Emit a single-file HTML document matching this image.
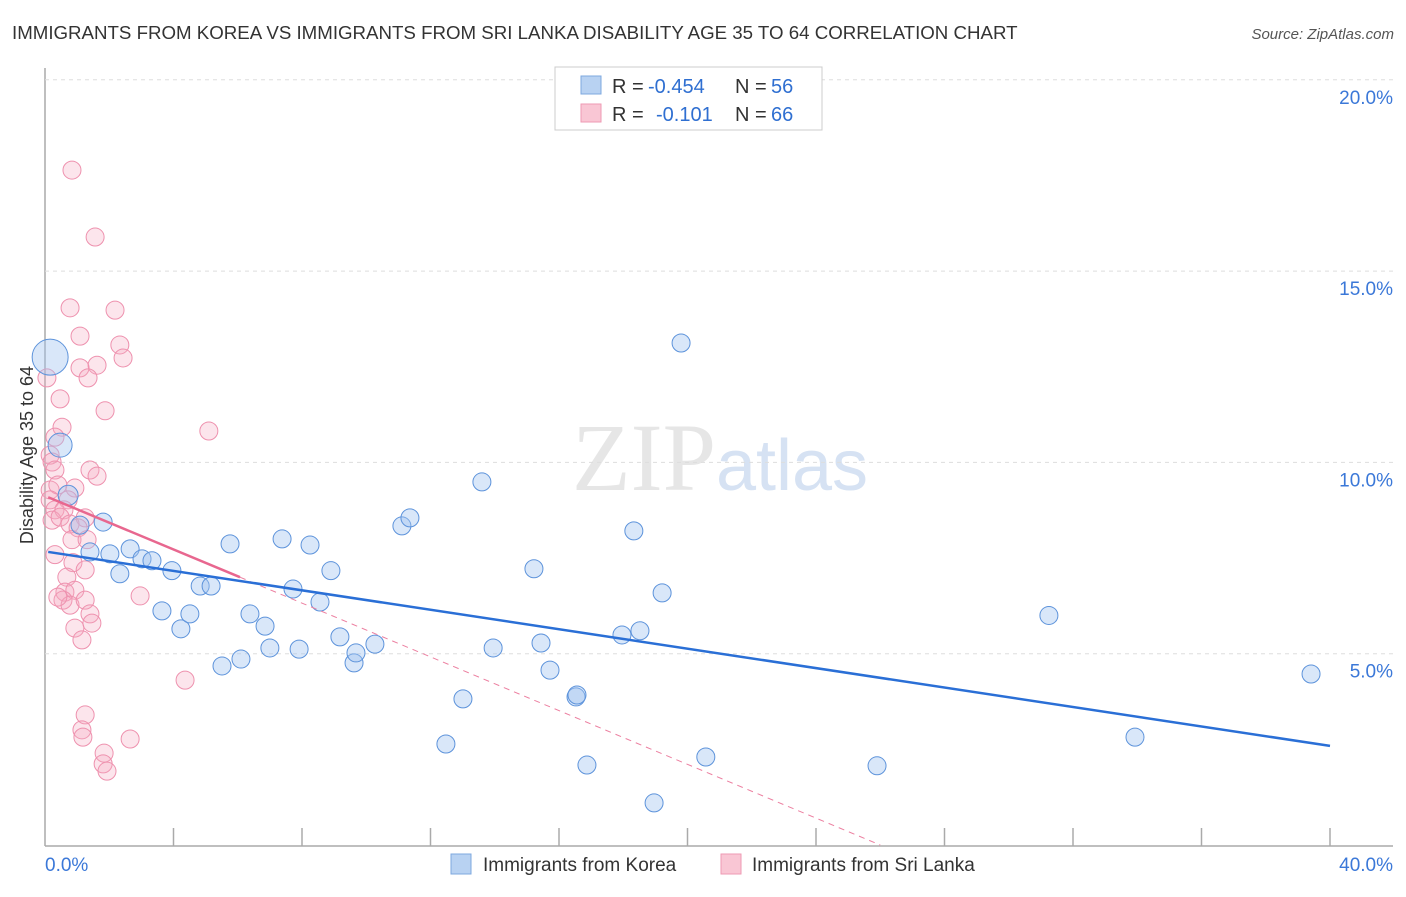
<!DOCTYPE html>
<html><head><meta charset="utf-8"><style>
body{margin:0;background:#fff;font-family:"Liberation Sans",sans-serif;}
svg text{font-family:"Liberation Sans",sans-serif;}
</style></head><body>
<svg id="chart" width="1406" height="892" xmlns="http://www.w3.org/2000/svg">
<text x="12" y="39" font-size="18.7" fill="#333">IMMIGRANTS FROM KOREA VS IMMIGRANTS FROM SRI LANKA DISABILITY AGE 35 TO 64 CORRELATION CHART</text>
<text x="1394" y="39" font-size="15" fill="#555" text-anchor="end" font-style="italic">Source: ZipAtlas.com</text>
<text x="720" y="490" font-size="96" text-anchor="middle" fill="#e6e6e6"><tspan font-family="Liberation Serif">ZIP</tspan><tspan fill="#d6e2f3" font-size="72">atlas</tspan></text>
<text transform="translate(33,455) rotate(-90)" font-size="18" fill="#333" text-anchor="middle">Disability Age 35 to 64</text>
<g id="grid"></g><g id="marks"></g>
<g>
<rect x="555" y="67" width="267" height="63" fill="#fff" stroke="#ccc"/>
<rect x="581" y="76" width="20" height="18" fill="#b8d2f2" stroke="#7ea8df"/>
<rect x="581" y="104" width="20" height="18" fill="#f9c6d4" stroke="#ee9ab3"/>
<text x="612" y="93" font-size="20" fill="#333">R =</text>
<text x="648" y="93" font-size="20" fill="#2f6fd1">-0.454</text>
<text x="735" y="93" font-size="20" fill="#333">N =</text>
<text x="771" y="93" font-size="20" fill="#2f6fd1">56</text>
<text x="612" y="121" font-size="20" fill="#333">R =</text>
<text x="656" y="121" font-size="20" fill="#2f6fd1">-0.101</text>
<text x="735" y="121" font-size="20" fill="#333">N =</text>
<text x="771" y="121" font-size="20" fill="#2f6fd1">66</text>
</g>
<g>
<rect x="451" y="854" width="20" height="20" fill="#b8d2f2" stroke="#7ea8df"/>
<text x="483" y="871" font-size="19" fill="#333">Immigrants from Korea</text>
<rect x="721" y="854" width="20" height="20" fill="#f9c6d4" stroke="#ee9ab3"/>
<text x="752" y="871" font-size="19" fill="#333">Immigrants from Sri Lanka</text>
</g>
</svg>
<script>
const xTicks=[0,4,8,12,16,20,24,28,32,36,40];
const yTicks=[5,10,15,20];
const koreaX=[0.16,0.47,0.72,1.09,1.40,1.81,2.02,2.33,2.65,3.02,3.33,3.95,3.64,4.23,4.51,4.83,5.17,5.51,5.76,6.10,6.38,6.85,7.00,7.38,7.72,7.91,8.25,8.56,8.90,9.18,9.62,9.68,10.27,11.11,11.36,12.48,13.01,13.60,13.95,15.22,15.44,15.72,16.53,16.56,16.87,17.96,18.33,18.52,18.96,19.21,19.80,20.57,25.90,31.25,33.93,39.41];
const koreaY=[12.75,10.45,9.14,8.36,7.66,8.44,7.61,7.09,7.74,7.48,7.43,7.17,6.12,5.65,6.04,6.77,6.77,4.68,7.87,4.86,6.04,5.72,5.15,8.00,6.69,5.12,7.84,6.35,7.17,5.44,4.76,5.02,5.25,8.34,8.55,2.64,3.82,9.49,5.15,7.22,5.28,4.57,3.87,3.92,2.09,5.49,8.21,5.60,1.10,6.59,13.12,2.30,2.07,6.00,2.82,4.47];
const koreaR=[18,12,10,9,9,9,9,9,9,9,9,9,9,9,9,9,9,9,9,9,9,9,9,9,9,9,9,9,9,9,9,9,9,9,9,9,9,9,9,9,9,9,9,9,9,9,9,9,9,9,9,9,9,9,9,9];
const lankaX=[0.84,1.56,0.78,2.18,1.09,2.33,2.43,1.62,1.09,1.34,0.06,0.47,1.87,5.10,0.53,0.31,0.16,0.22,0.31,1.40,1.62,0.16,0.40,0.93,0.72,0.16,0.31,0.59,0.22,0.47,1.25,0.78,1.03,0.84,1.31,0.31,0.87,1.25,0.68,0.62,0.93,0.56,0.78,0.40,1.25,1.40,1.46,0.93,1.15,2.96,4.36,1.25,1.15,1.18,1.84,1.81,2.65,1.93];
const lankaY=[17.64,15.89,14.04,13.98,13.30,13.07,12.73,12.54,12.47,12.21,12.21,11.66,11.35,10.82,10.92,10.66,10.19,10.01,9.80,9.80,9.64,9.28,9.41,9.33,9.02,9.02,8.76,8.76,8.49,8.57,8.55,8.39,8.29,7.98,7.98,7.59,7.38,7.19,7.00,6.61,6.66,6.40,6.27,6.48,6.40,6.04,5.80,5.67,5.36,6.51,4.31,3.40,3.01,2.82,2.40,2.12,2.77,1.93];
const blueLine=[[0.1,7.66],[40,2.59]];
const pinkLine=[[0.1,9.09],[6.07,7.0]];
const pinkDash=[[6.07,7.0],[26,0]];
const sx=v=>45+v*32.125, sy=v=>845-v*38.26;
const NS="http://www.w3.org/2000/svg";
const grid=document.getElementById('grid'), marks=document.getElementById('marks');
function mk(tag,attrs,parent){const e=document.createElementNS(NS,tag);for(const k in attrs)e.setAttribute(k,attrs[k]);parent.appendChild(e);return e;}
let ax=mk('line',{x1:45,y1:68,x2:45,y2:846,stroke:'#aaa','stroke-width':1.5},grid);


let bx=mk('line',{x1:45,y1:846,x2:1393,y2:846,stroke:'#aaa','stroke-width':1.5},grid);


yTicks.forEach(t=>{
 let g=mk('line',{x1:45,x2:1393,y1:sy(t),y2:sy(t),stroke:'#ddd','stroke-dasharray':'4,4'},grid);
 
 
 let l=mk('text',{x:1393,y:sy(t)+24,'font-size':19,fill:'#3b78d8','text-anchor':'end'},grid);l.textContent=t.toFixed(1)+'%';
 
 
});
xTicks.forEach(t=>{
 if(t>0){let m=mk('line',{x1:sx(t),x2:sx(t),y1:828,y2:846,stroke:'#aaa','stroke-width':1.5},grid);
 
 }
});
[[0,'start',45],[40,'end',1393]].forEach(([t,a,x])=>{let l=mk('text',{x:x,y:871,'font-size':19,fill:'#3b78d8','text-anchor':a},grid);l.textContent=t.toFixed(1)+'%';
 
 });
lankaX.forEach((x,i)=>{let c=mk('circle',{cx:sx(x),cy:sy(lankaY[i]),r:9,fill:'rgba(246,170,192,0.3)',stroke:'#ee91ae','stroke-width':1},marks);
 
 });
koreaX.forEach((x,i)=>{let c=mk('circle',{cx:sx(x),cy:sy(koreaY[i]),r:koreaR[i],fill:'rgba(160,196,240,0.4)',stroke:'#5d93db','stroke-width':1},marks);
 
 });
let d=mk('line',{x1:sx(pinkDash[0][0]),y1:sy(pinkDash[0][1]),x2:sx(pinkDash[1][0]),y2:sy(pinkDash[1][1]),stroke:'#ec7fa0','stroke-width':1,'stroke-dasharray':'6,5'},marks);


let p=mk('line',{x1:sx(pinkLine[0][0]),y1:sy(pinkLine[0][1]),x2:sx(pinkLine[1][0]),y2:sy(pinkLine[1][1]),stroke:'#e8678f','stroke-width':2.5},marks);


let b=mk('line',{x1:sx(blueLine[0][0]),y1:sy(blueLine[0][1]),x2:sx(blueLine[1][0]),y2:sy(blueLine[1][1]),stroke:'#2a6fd6','stroke-width':2.5},marks);


</script>
</body></html>
